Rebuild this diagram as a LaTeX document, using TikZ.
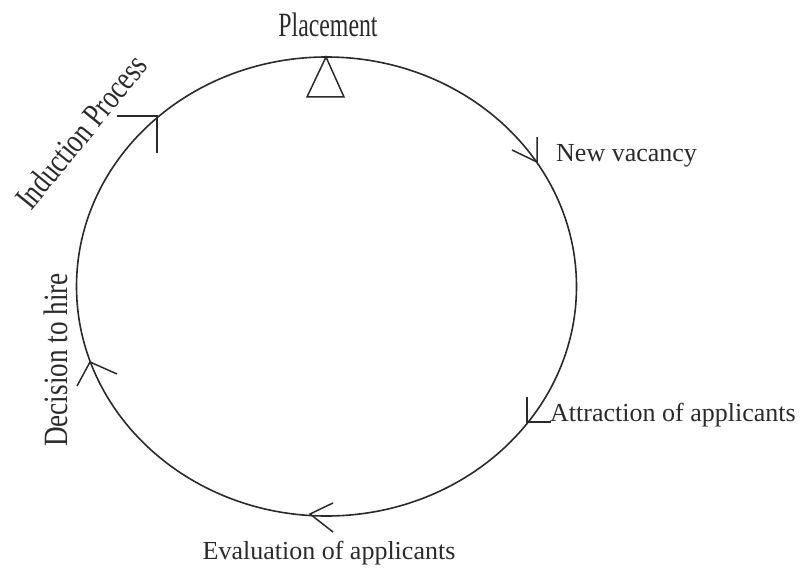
\documentclass[tikz,border=0pt]{standalone}
\usepackage{fontspec}
\setmainfont{Liberation Serif}
\newfontfamily\condA[FakeStretch=0.7]{Liberation Serif}
\newfontfamily\condB[FakeStretch=0.77]{Liberation Serif}
\newfontfamily\condC[FakeStretch=0.8]{Liberation Serif}
\definecolor{ink}{HTML}{2a2a2a}
\tikzset{
  ring/.style={draw=ink, line width=1.6pt},
  barb/.style={draw=ink, line width=1.5pt},
  lbl/.style={text=ink, inner sep=0pt, font=\fontsize{26}{30}\selectfont},
  clbl/.style={text=ink, inner sep=0pt},
}
\begin{document}
\begin{tikzpicture}[x=1pt,y=-1pt]
\useasboundingbox (0,0) rectangle (810,567);
\coordinate (c) at (326.5,286.5);
\draw[ring] (c) ellipse [x radius=250, y radius=229.5];
% Placement triangle
\coordinate (pA) at (326,57);
\coordinate (pB) at (307,97);
\coordinate (pC) at (344,97);
\draw[barb, line join=miter] (pA) -- (pB) -- (pC) -- cycle;
% Induction marker
\coordinate (iT) at (157,116);
\coordinate (i1) at (117,116);
\coordinate (i2) at (157,153);
\draw[barb] (i1) -- (iT) -- (i2);
% New vacancy marker
\coordinate (nT) at (537,162);
\coordinate (n1) at (537,137);
\coordinate (n2) at (512,150);
\draw[barb] (n1) -- (nT) -- (n2);
% Attraction marker
\coordinate (aT) at (527,422);
\coordinate (a1) at (527,397);
\coordinate (a2) at (551,422);
\draw[barb] (a1) -- (aT) -- (a2);
% Evaluation marker
\coordinate (eT) at (310,514);
\coordinate (e1) at (333,503);
\coordinate (e2) at (333,532);
\draw[barb] (e1) -- (eT) -- (e2);
% Decision marker
\coordinate (dT) at (90,362);
\coordinate (d1) at (77,386);
\coordinate (d2) at (117,374);
\draw[barb] (d1) -- (dT) -- (d2);
% Labels
\node[clbl, anchor=base, font=\condA\fontsize{34}{38}\selectfont] (place) at (328,37) {Placement};
\node[lbl, anchor=base west] (newv) at (556,161) {New vacancy};
\node[lbl, anchor=base west] (attr) at (550,421) {Attraction of applicants};
\node[lbl, anchor=base] (eval) at (329,559) {Evaluation of applicants};
\node[clbl, rotate=51, font=\condB\fontsize{34}{38}\selectfont] (induct) at (81,132) {Induction Process};
\node[clbl, rotate=90, font=\condC\fontsize{34}{38}\selectfont] (decide) at (56,360) {Decision to hire};
\end{tikzpicture}
\end{document}
